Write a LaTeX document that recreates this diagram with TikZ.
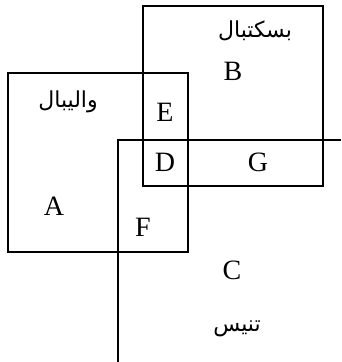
\documentclass[tikz,border=0pt]{standalone}
\usepackage{fontspec}
\setmainfont{Liberation Serif}
\newfontfamily\arabicfont[Script=Arabic]{DejaVu Sans}
\TeXXeTstate=1
\begin{document}
\begin{tikzpicture}[x=1pt,y=-1pt,
    setline/.style={line width=1.8pt},
    letter/.style={inner sep=0pt,font=\fontsize{28}{30}\selectfont},
    sportname/.style={inner sep=0pt,font=\arabicfont\fontsize{22}{26}\selectfont}]
    \useasboundingbox (0,0) rectangle (341,362);
    % Sets
    \draw[setline] (143,6) rectangle (323,186);
    \draw[setline] (8,73) rectangle (188,252);
    \draw[setline] (341,140) -- (118,140) -- (118,362);
    % Names of the sets
    \node[sportname] (basket) at (255,31) {\beginR بسکتبال\endR};
    \node[sportname] (volley) at (68,102) {\beginR والیبال\endR};
    \node[sportname] (tennis) at (237,329) {\beginR تنیس\endR};
    % Regions
    \node[letter] (B) at (233,71) {B};
    \node[letter] (E) at (165,112) {E};
    \node[letter] (D) at (165,162) {D};
    \node[letter] (G) at (258,162) {G};
    \node[letter] (A) at (54,206) {A};
    \node[letter] (F) at (143,227) {F};
    \node[letter] (C) at (232,270) {C};
\end{tikzpicture}
\end{document}
